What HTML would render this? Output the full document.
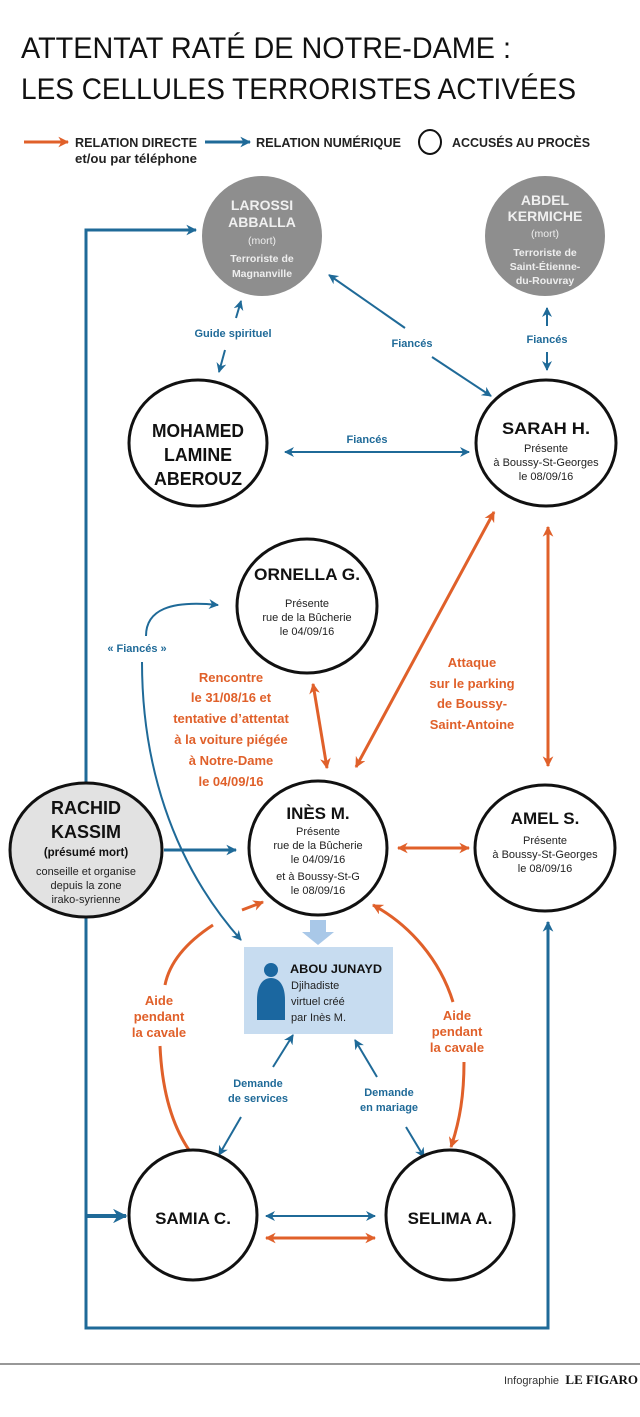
<!DOCTYPE html>
<html><head><meta charset="utf-8"><style>
html,body{margin:0;padding:0;background:#fff;}
svg{display:block;font-family:"Liberation Sans Narrow","Liberation Sans",sans-serif;}
.b{fill:#1f6a98;font-weight:bold;font-size:11px;}
.o{fill:#e0602a;font-weight:bold;font-size:13px;}
.n{font-weight:bold;fill:#111;}
.s{fill:#222;font-size:11px;}
.g{fill:#f0f0f0;font-weight:bold;}
</style></head><body>
<svg width="640" height="1417" viewBox="0 0 640 1417" xmlns="http://www.w3.org/2000/svg">
<defs>
<marker id="ab" viewBox="0 0 10 10" refX="9" refY="5" markerWidth="3.6" markerHeight="3.6" orient="auto-start-reverse" markerUnits="strokeWidth"><path d="M0,0 L10,5 L0,10 L3,5 z" fill="#1f6a98"/></marker>
<marker id="ab2" viewBox="0 0 10 10" refX="9" refY="5" markerWidth="5" markerHeight="5" orient="auto-start-reverse" markerUnits="strokeWidth"><path d="M0,0 L10,5 L0,10 L3,5 z" fill="#1f6a98"/></marker>
<marker id="ao" viewBox="0 0 10 10" refX="9" refY="5" markerWidth="3.6" markerHeight="3.6" orient="auto-start-reverse" markerUnits="strokeWidth"><path d="M0,0 L10,5 L0,10 L3,5 z" fill="#e0602a"/></marker>
</defs>

<text x="21" y="58" font-size="30" fill="#111" textLength="490" lengthAdjust="spacingAndGlyphs">ATTENTAT RATÉ DE NOTRE-DAME :</text>
<text x="21" y="99" font-size="30" fill="#111" textLength="555" lengthAdjust="spacingAndGlyphs">LES CELLULES TERRORISTES ACTIVÉES</text>

<!-- legend -->
<line x1="24" y1="142" x2="68" y2="142" stroke="#e0602a" stroke-width="3" marker-end="url(#ao)"/>
<text x="75" y="147" font-size="13" fill="#222" font-weight="bold" textLength="122" lengthAdjust="spacingAndGlyphs">RELATION DIRECTE</text>
<text x="75" y="163" font-size="13" fill="#222" font-weight="bold" textLength="122" lengthAdjust="spacingAndGlyphs">et/ou par téléphone</text>
<line x1="205" y1="142" x2="250" y2="142" stroke="#1f6a98" stroke-width="3" marker-end="url(#ab)"/>
<text x="256" y="147" font-size="13" fill="#222" font-weight="bold" textLength="145" lengthAdjust="spacingAndGlyphs">RELATION NUMÉRIQUE</text>
<ellipse cx="430" cy="142" rx="11" ry="12" fill="none" stroke="#111" stroke-width="2"/>
<text x="452" y="147" font-size="13" fill="#222" font-weight="bold" textLength="138" lengthAdjust="spacingAndGlyphs">ACCUSÉS AU PROCÈS</text>

<!-- big blue frame -->
<polyline points="196,230 86,230 86,790" fill="none" stroke="#1f6a98" stroke-width="3" marker-start="url(#ab)"/>
<polyline points="86,917 86,1328 548,1328 548,922" fill="none" stroke="#1f6a98" stroke-width="3" marker-end="url(#ab)"/>
<line x1="86" y1="1216" x2="126" y2="1216" stroke="#1f6a98" stroke-width="4" marker-end="url(#ab)"/>

<!-- dead nodes -->
<ellipse cx="262" cy="236" rx="60" ry="60" fill="#8e8e8e"/>
<text text-anchor="middle" class="g" font-size="14"><tspan x="262" y="210">LAROSSI</tspan><tspan x="262" y="227">ABBALLA</tspan></text>
<text text-anchor="middle" fill="#eee" font-size="10.5"><tspan x="262" y="244">(mort)</tspan><tspan x="262" y="262" font-weight="bold">Terroriste de</tspan><tspan x="262" y="277" font-weight="bold">Magnanville</tspan></text>
<ellipse cx="545" cy="236" rx="60" ry="60" fill="#8e8e8e"/>
<text text-anchor="middle" class="g" font-size="14"><tspan x="545" y="205">ABDEL</tspan><tspan x="545" y="221">KERMICHE</tspan></text>
<text text-anchor="middle" fill="#eee" font-size="10.5"><tspan x="545" y="237">(mort)</tspan><tspan x="545" y="256" font-weight="bold">Terroriste de</tspan><tspan x="545" y="270" font-weight="bold">Saint-Étienne-</tspan><tspan x="545" y="284" font-weight="bold">du-Rouvray</tspan></text>

<!-- top blue connectors -->
<line x1="236" y1="318" x2="241" y2="301" stroke="#1f6a98" stroke-width="2" marker-end="url(#ab2)"/>
<line x1="225" y1="350" x2="219" y2="372" stroke="#1f6a98" stroke-width="2" marker-end="url(#ab2)"/>
<text x="233" y="337" text-anchor="middle" class="b">Guide spirituel</text>
<line x1="405" y1="328" x2="329" y2="275" stroke="#1f6a98" stroke-width="2" marker-end="url(#ab2)"/>
<line x1="432" y1="357" x2="491" y2="396" stroke="#1f6a98" stroke-width="2" marker-end="url(#ab2)"/>
<text x="412" y="347" text-anchor="middle" class="b">Fiancés</text>
<line x1="547" y1="326" x2="547" y2="308" stroke="#1f6a98" stroke-width="2" marker-end="url(#ab2)"/>
<line x1="547" y1="352" x2="547" y2="370" stroke="#1f6a98" stroke-width="2" marker-end="url(#ab2)"/>
<text x="547" y="343" text-anchor="middle" class="b">Fiancés</text>

<!-- Mohamed / Sarah -->
<ellipse cx="198" cy="443" rx="69" ry="63" fill="#fff" stroke="#111" stroke-width="3"/>
<text text-anchor="middle" class="n" font-size="18"><tspan x="198" y="437" textLength="92" lengthAdjust="spacingAndGlyphs">MOHAMED</tspan><tspan x="198" y="461" textLength="68" lengthAdjust="spacingAndGlyphs">LAMINE</tspan><tspan x="198" y="485" textLength="88" lengthAdjust="spacingAndGlyphs">ABEROUZ</tspan></text>
<ellipse cx="546" cy="443" rx="70" ry="63" fill="#fff" stroke="#111" stroke-width="3"/>
<text x="546" y="434" text-anchor="middle" class="n" font-size="17" textLength="88" lengthAdjust="spacingAndGlyphs">SARAH H.</text>
<text text-anchor="middle" class="s"><tspan x="546" y="452">Présente</tspan><tspan x="546" y="466">à Boussy-St-Georges</tspan><tspan x="546" y="480">le 08/09/16</tspan></text>
<line x1="285" y1="452" x2="469" y2="452" stroke="#1f6a98" stroke-width="2" marker-start="url(#ab2)" marker-end="url(#ab2)"/>
<text x="367" y="443" text-anchor="middle" class="b">Fiancés</text>

<!-- Ornella -->
<ellipse cx="307" cy="606" rx="70" ry="67" fill="#fff" stroke="#111" stroke-width="3"/>
<text x="307" y="580" text-anchor="middle" class="n" font-size="17" textLength="106" lengthAdjust="spacingAndGlyphs">ORNELLA G.</text>
<text text-anchor="middle" class="s"><tspan x="307" y="607">Présente</tspan><tspan x="307" y="621">rue de la Bûcherie</tspan><tspan x="307" y="635">le 04/09/16</tspan></text>

<!-- Fiancés curves -->
<path d="M146,636 C146,610 170,600 218,605" fill="none" stroke="#1f6a98" stroke-width="2" marker-end="url(#ab2)"/>
<text x="137" y="652" text-anchor="middle" class="b" font-size="10.5">« Fiancés »</text>
<path d="M142,662 C142,760 170,860 241,940" fill="none" stroke="#1f6a98" stroke-width="2" marker-end="url(#ab2)"/>

<!-- orange central -->
<text text-anchor="middle" class="o"><tspan x="231" y="682">Rencontre</tspan><tspan x="231" y="702">le 31/08/16 et</tspan><tspan x="231" y="723">tentative d’attentat</tspan><tspan x="231" y="744">à la voiture piégée</tspan><tspan x="231" y="765">à Notre-Dame</tspan><tspan x="231" y="786">le 04/09/16</tspan></text>
<line x1="313" y1="684" x2="327" y2="768" stroke="#e0602a" stroke-width="3" marker-start="url(#ao)" marker-end="url(#ao)"/>
<line x1="494" y1="512" x2="356" y2="767" stroke="#e0602a" stroke-width="3" marker-start="url(#ao)" marker-end="url(#ao)"/>
<line x1="548" y1="527" x2="548" y2="766" stroke="#e0602a" stroke-width="3" marker-start="url(#ao)" marker-end="url(#ao)"/>
<text text-anchor="middle" class="o"><tspan x="472" y="667">Attaque</tspan><tspan x="472" y="688">sur le parking</tspan><tspan x="472" y="708">de Boussy-</tspan><tspan x="472" y="729">Saint-Antoine</tspan></text>

<!-- Rachid -->
<ellipse cx="86" cy="850" rx="76" ry="67" fill="#e2e2e2" stroke="#111" stroke-width="3"/>
<text text-anchor="middle" class="n" font-size="18"><tspan x="86" y="814">RACHID</tspan><tspan x="86" y="838">KASSIM</tspan></text>
<text x="86" y="856" text-anchor="middle" class="n" font-size="11.5">(présumé mort)</text>
<text text-anchor="middle" class="s"><tspan x="86" y="875" textLength="100" lengthAdjust="spacingAndGlyphs">conseille et organise</tspan><tspan x="86" y="889">depuis la zone</tspan><tspan x="86" y="903">irako-syrienne</tspan></text>
<line x1="164" y1="850" x2="236" y2="850" stroke="#1f6a98" stroke-width="3" marker-end="url(#ab)"/>

<!-- Ines -->
<ellipse cx="318" cy="848" rx="69" ry="67" fill="#fff" stroke="#111" stroke-width="3"/>
<text x="318" y="819" text-anchor="middle" class="n" font-size="17">INÈS M.</text>
<text text-anchor="middle" class="s"><tspan x="318" y="835">Présente</tspan><tspan x="318" y="849">rue de la Bûcherie</tspan><tspan x="318" y="863">le 04/09/16</tspan><tspan x="318" y="880">et à Boussy-St-G</tspan><tspan x="318" y="894">le 08/09/16</tspan></text>
<!-- Amel -->
<ellipse cx="545" cy="848" rx="70" ry="63" fill="#fff" stroke="#111" stroke-width="3"/>
<text x="545" y="824" text-anchor="middle" class="n" font-size="17">AMEL S.</text>
<text text-anchor="middle" class="s"><tspan x="545" y="844">Présente</tspan><tspan x="545" y="858">à Boussy-St-Georges</tspan><tspan x="545" y="872">le 08/09/16</tspan></text>
<line x1="398" y1="848" x2="469" y2="848" stroke="#e0602a" stroke-width="3" marker-start="url(#ao)" marker-end="url(#ao)"/>

<!-- fat arrow -->
<path d="M310,920 L326,920 L326,932 L334,932 L318,945 L302,932 L310,932 z" fill="#a9c8e8"/>

<!-- Abou box -->
<rect x="244" y="947" width="149" height="87" fill="#c7dcf0"/>
<circle cx="271" cy="970" r="7" fill="#1b67a0"/>
<path d="M257,1020 L257,1000 C257,985 263,978 271,978 C279,978 285,985 285,1000 L285,1020 z" fill="#1b67a0"/>
<text x="290" y="973" class="n" font-size="12" textLength="92" lengthAdjust="spacingAndGlyphs">ABOU JUNAYD</text>
<text class="s" font-size="11.5" fill="#111"><tspan x="291" y="989">Djihadiste</tspan><tspan x="291" y="1005">virtuel créé</tspan><tspan x="291" y="1021">par Inès M.</tspan></text>

<!-- Aide left -->
<line x1="242" y1="910" x2="263" y2="902" stroke="#e0602a" stroke-width="3" marker-end="url(#ao)"/>
<path d="M213,925 C190,940 170,960 165,985" fill="none" stroke="#e0602a" stroke-width="3"/>
<path d="M160,1046 C162,1090 172,1125 189,1150" fill="none" stroke="#e0602a" stroke-width="3"/>
<text text-anchor="middle" class="o"><tspan x="159" y="1005">Aide</tspan><tspan x="159" y="1021">pendant</tspan><tspan x="159" y="1037">la cavale</tspan></text>
<!-- Aide right -->
<path d="M453,1002 C440,960 410,925 373,905" fill="none" stroke="#e0602a" stroke-width="3" marker-end="url(#ao)"/>
<path d="M464,1062 C464,1095 460,1120 451,1147" fill="none" stroke="#e0602a" stroke-width="3" marker-end="url(#ao)"/>
<text text-anchor="middle" class="o"><tspan x="457" y="1020">Aide</tspan><tspan x="457" y="1036">pendant</tspan><tspan x="457" y="1052">la cavale</tspan></text>

<!-- Demande -->
<line x1="273" y1="1067" x2="293" y2="1035" stroke="#1f6a98" stroke-width="2" marker-end="url(#ab2)"/>
<text text-anchor="middle" class="b" font-size="11"><tspan x="258" y="1087">Demande</tspan><tspan x="258" y="1102">de services</tspan></text>
<line x1="241" y1="1117" x2="219" y2="1155" stroke="#1f6a98" stroke-width="2" marker-end="url(#ab2)"/>
<line x1="377" y1="1077" x2="355" y2="1040" stroke="#1f6a98" stroke-width="2" marker-end="url(#ab2)"/>
<text text-anchor="middle" class="b" font-size="11"><tspan x="389" y="1096">Demande</tspan><tspan x="389" y="1111">en mariage</tspan></text>
<line x1="406" y1="1127" x2="424" y2="1157" stroke="#1f6a98" stroke-width="2" marker-end="url(#ab2)"/>

<!-- Samia / Selima -->
<ellipse cx="193" cy="1215" rx="64" ry="65" fill="#fff" stroke="#111" stroke-width="3"/>
<text x="193" y="1224" text-anchor="middle" class="n" font-size="17">SAMIA C.</text>
<ellipse cx="450" cy="1215" rx="64" ry="65" fill="#fff" stroke="#111" stroke-width="3"/>
<text x="450" y="1224" text-anchor="middle" class="n" font-size="17">SELIMA A.</text>
<line x1="266" y1="1216" x2="375" y2="1216" stroke="#1f6a98" stroke-width="2" marker-start="url(#ab2)" marker-end="url(#ab2)"/>
<line x1="266" y1="1238" x2="375" y2="1238" stroke="#e0602a" stroke-width="3" marker-start="url(#ao)" marker-end="url(#ao)"/>

<!-- footer -->
<line x1="0" y1="1364" x2="640" y2="1364" stroke="#777" stroke-width="1.5"/>
<text x="504" y="1384" font-size="11" fill="#333">Infographie</text>
<text x="638" y="1384" text-anchor="end" font-family="Liberation Serif,serif" font-weight="bold" font-size="13" fill="#111">LE FIGARO</text>
</svg>
</body></html>
